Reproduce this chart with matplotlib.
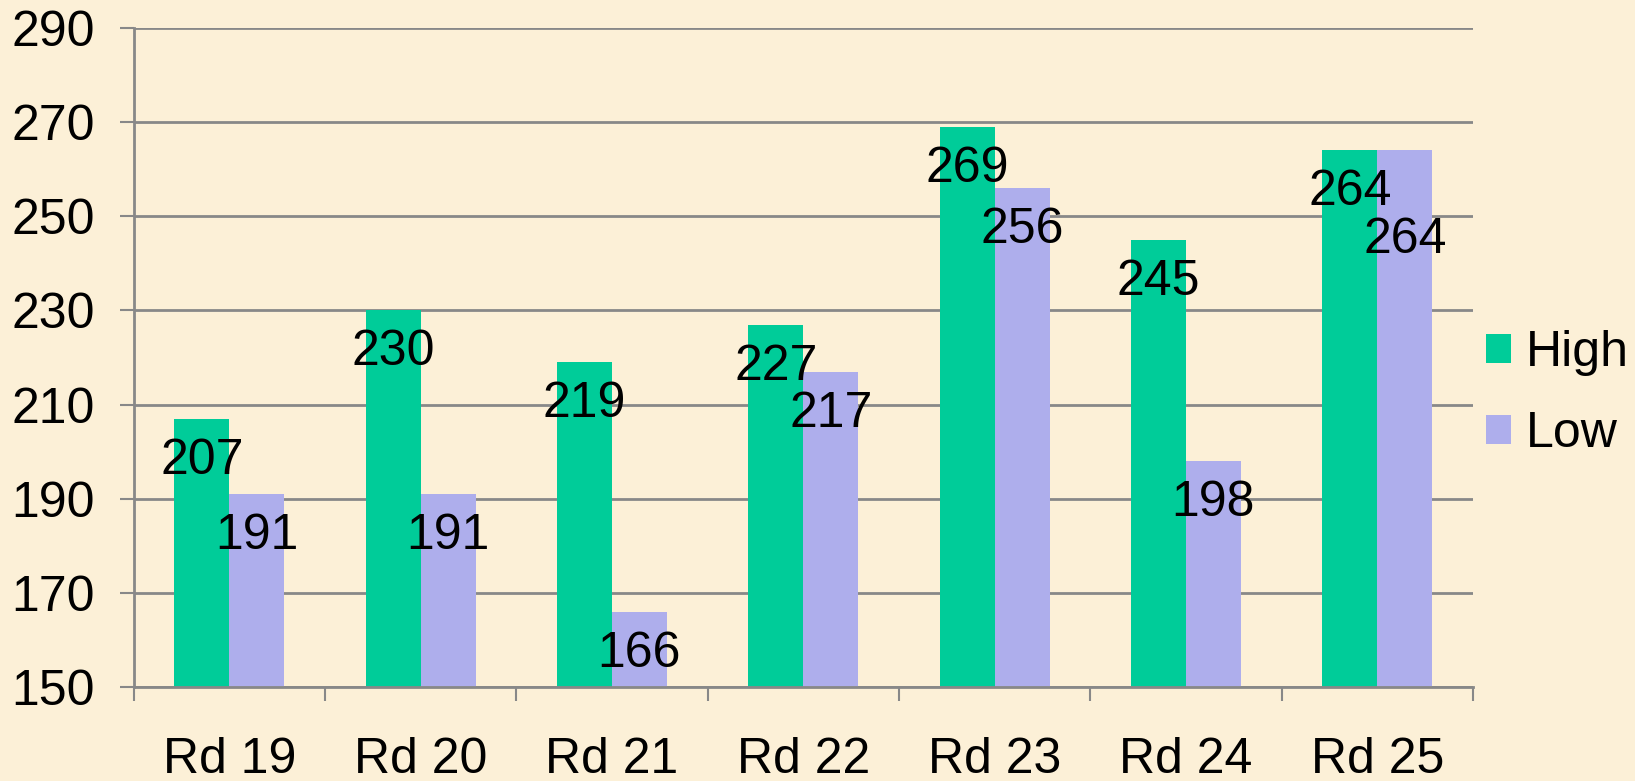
import matplotlib
matplotlib.use("Agg")
import matplotlib.pyplot as plt
import numpy as np

rounds = ["Rd 19", "Rd 20", "Rd 21", "Rd 22", "Rd 23", "Rd 24", "Rd 25"]
high = [207, 230, 219, 227, 269, 245, 264]
low = [191, 191, 166, 217, 256, 198, 264]
y_ticks = [150, 170, 190, 210, 230, 250, 270, 290]

BG = "#FCF0D7"
GREEN = "#00CC99"
PURPLE = "#AEAEEC"
GRID = "#888888"
FS = 36

plt.rcParams["font.family"] = ["Liberation Sans", "DejaVu Sans"]

fig = plt.figure(figsize=(16.35, 7.81), dpi=100, facecolor=BG)
ax = fig.add_axes([0.0817, 0.1204, 0.8192, 0.8437])
ax.set_facecolor("none")

x = np.arange(len(rounds))
w = 0.287
b1 = ax.bar(x - w / 2, high, w, color=GREEN, label="High", zorder=2)
b2 = ax.bar(x + w / 2, low, w, color=PURPLE, label="Low", zorder=2)

# data labels sit a fixed distance under the bar top; the last Low one was nudged lower
for bars, vals, series in ((b1, high, "high"), (b2, low, "low")):
    for i, (r, v) in enumerate(zip(bars, vals)):
        off = -42
        if series == "low" and i == len(vals) - 1:
            off = -90
        ax.annotate(str(v), (r.get_x() + r.get_width() / 2, v),
                    xytext=(0, off), textcoords="offset pixels",
                    ha="center", va="center", fontsize=FS, zorder=3)

ax.set_ylim(150, 290)
ax.set_yticks(y_ticks)
ax.set_xlim(-0.5, len(rounds) - 0.5)
ax.set_xticks(np.arange(-0.5, len(rounds)))
ax.set_xticklabels([])
ax.set_xticks(x, minor=True)
ax.set_xticklabels(rounds, minor=True)

ax.grid(axis="y", color=GRID, linewidth=2, zorder=0)
ax.set_axisbelow(True)
for s in ("top", "right"):
    ax.spines[s].set_visible(False)
for s in ("left", "bottom"):
    ax.spines[s].set_color(GRID)
    ax.spines[s].set_linewidth(2)

ax.tick_params(axis="y", length=10, width=1.5, color=GRID, pad=18, labelsize=FS)
ax.tick_params(axis="x", which="major", length=10, width=1.5, color=GRID)
ax.tick_params(axis="x", which="minor", length=0, pad=36, labelsize=FS)

ax.legend(loc="center left", bbox_to_anchor=(0.995, 0.445), frameon=False,
          fontsize=FS, handlelength=0.5, handleheight=0.5, handletextpad=0.3,
          labelspacing=0.7, borderaxespad=0)

fig.savefig("out.png", dpi=100, facecolor=BG)
